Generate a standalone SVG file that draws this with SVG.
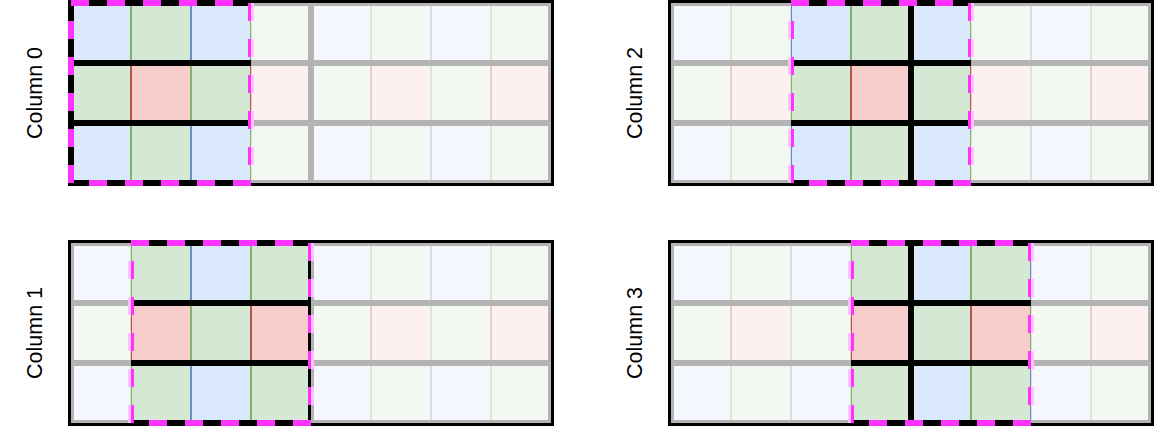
<svg xmlns="http://www.w3.org/2000/svg" xmlns:xlink="http://www.w3.org/1999/xlink" width="1154" height="426" viewBox="0 0 1154 426">
  <style>
    .b { fill: #dae8fc; stroke: #6c8ebf; stroke-width: 2; }
    .g { fill: #d5e8d4; stroke: #82b366; stroke-width: 2; }
    .r { fill: #f8cecc; stroke: #b85450; stroke-width: 2; }
    .thick { fill: none; stroke: #000000; stroke-width: 6; }
    .win { fill: none; stroke: #ff33ff; stroke-width: 6; stroke-dasharray: 18 18; }
    .fade { fill: #ffffff; fill-opacity: 0.7; fill-rule: evenodd; stroke: none; }
    .label { font-family: "Liberation Sans", Arial, Helvetica, sans-serif; font-size: 21.5px; fill: #000000; text-anchor: middle; }
  </style>
  <defs>
    <g id="cells">
      <rect class="b" x="0" y="0" width="60" height="60"/>
      <rect class="g" x="60" y="0" width="60" height="60"/>
      <rect class="b" x="120" y="0" width="60" height="60"/>
      <rect class="g" x="180" y="0" width="60" height="60"/>
      <rect class="b" x="240" y="0" width="60" height="60"/>
      <rect class="g" x="300" y="0" width="60" height="60"/>
      <rect class="b" x="360" y="0" width="60" height="60"/>
      <rect class="g" x="420" y="0" width="60" height="60"/>
      <rect class="g" x="0" y="60" width="60" height="60"/>
      <rect class="r" x="60" y="60" width="60" height="60"/>
      <rect class="g" x="120" y="60" width="60" height="60"/>
      <rect class="r" x="180" y="60" width="60" height="60"/>
      <rect class="g" x="240" y="60" width="60" height="60"/>
      <rect class="r" x="300" y="60" width="60" height="60"/>
      <rect class="g" x="360" y="60" width="60" height="60"/>
      <rect class="r" x="420" y="60" width="60" height="60"/>
      <rect class="b" x="0" y="120" width="60" height="60"/>
      <rect class="g" x="60" y="120" width="60" height="60"/>
      <rect class="b" x="120" y="120" width="60" height="60"/>
      <rect class="g" x="180" y="120" width="60" height="60"/>
      <rect class="b" x="240" y="120" width="60" height="60"/>
      <rect class="g" x="300" y="120" width="60" height="60"/>
      <rect class="b" x="360" y="120" width="60" height="60"/>
      <rect class="g" x="420" y="120" width="60" height="60"/>
    </g>
    <path id="lines" class="thick" d="M0,0 H480 V180 H0 Z M0,60 H480 M0,120 H480 M240,0 V180"/>
  </defs>

  <g id="panel-column-0" transform="translate(71,3)">
    <use xlink:href="#cells"/>
    <use xlink:href="#lines"/>
    <rect class="win" x="0" y="0" width="180" height="180"/>
    <path class="fade" d="M0,0 H480 V180 H0 Z M0,0 H180 V180 H0 Z"/>
  </g>

  <g id="panel-column-1" transform="translate(71,243)">
    <use xlink:href="#cells"/>
    <use xlink:href="#lines"/>
    <rect class="win" x="60" y="0" width="180" height="180"/>
    <path class="fade" d="M0,0 H480 V180 H0 Z M60,0 H240 V180 H60 Z"/>
  </g>

  <g id="panel-column-2" transform="translate(671,3)">
    <use xlink:href="#cells"/>
    <use xlink:href="#lines"/>
    <rect class="win" x="120" y="0" width="180" height="180"/>
    <path class="fade" d="M0,0 H480 V180 H0 Z M120,0 H300 V180 H120 Z"/>
  </g>

  <g id="panel-column-3" transform="translate(671,243)">
    <use xlink:href="#cells"/>
    <use xlink:href="#lines"/>
    <rect class="win" x="180" y="0" width="180" height="180"/>
    <path class="fade" d="M0,0 H480 V180 H0 Z M180,0 H360 V180 H180 Z"/>
  </g>

  <g id="connectors"></g>

  <g id="labels">
    <text class="label" transform="translate(42,93) rotate(-90)">Column 0</text>
    <text class="label" transform="translate(42,333) rotate(-90)">Column 1</text>
    <text class="label" transform="translate(642,93) rotate(-90)">Column 2</text>
    <text class="label" transform="translate(642,333) rotate(-90)">Column 3</text>
  </g>
</svg>
